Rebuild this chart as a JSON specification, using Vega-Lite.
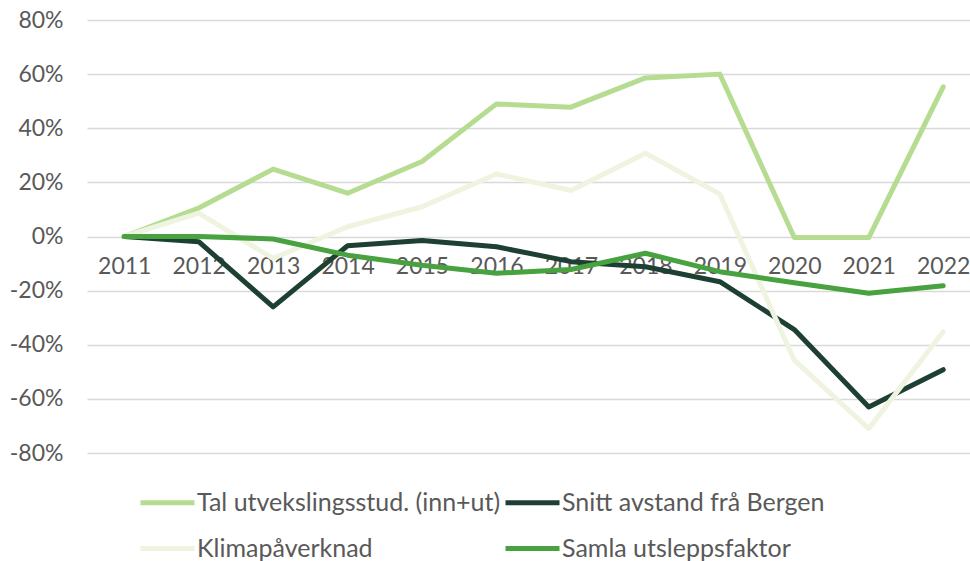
{
  "$schema": "https://vega.github.io/schema/vega-lite/v6.json",
  "width": 883,
  "height": 433,
  "autosize": {"type": "none"},
  "padding": {"left": 87, "top": 20, "right": 0, "bottom": 108},
  "background": "white",
  "config": {
    "view": {"stroke": null},
    "font": "Lato",
    "axis": {"labelFont": "Lato", "labelFontSize": 23, "labelColor": "#595959"},
    "legend": {"labelFont": "Lato", "labelFontSize": 25, "labelColor": "#595959"}
  },
  "data": {
    "values": [
      {"year": 2011, "series": "Tal utvekslingsstud. (inn+ut)", "value": 0},
      {"year": 2012, "series": "Tal utvekslingsstud. (inn+ut)", "value": 10.5},
      {"year": 2013, "series": "Tal utvekslingsstud. (inn+ut)", "value": 24.9},
      {"year": 2014, "series": "Tal utvekslingsstud. (inn+ut)", "value": 16},
      {"year": 2015, "series": "Tal utvekslingsstud. (inn+ut)", "value": 27.7},
      {"year": 2016, "series": "Tal utvekslingsstud. (inn+ut)", "value": 49},
      {"year": 2017, "series": "Tal utvekslingsstud. (inn+ut)", "value": 47.8},
      {"year": 2018, "series": "Tal utvekslingsstud. (inn+ut)", "value": 58.6},
      {"year": 2019, "series": "Tal utvekslingsstud. (inn+ut)", "value": 60},
      {"year": 2020, "series": "Tal utvekslingsstud. (inn+ut)", "value": -0.4},
      {"year": 2021, "series": "Tal utvekslingsstud. (inn+ut)", "value": -0.4},
      {"year": 2022, "series": "Tal utvekslingsstud. (inn+ut)", "value": 55.3},
      {"year": 2011, "series": "Snitt avstand frå Bergen", "value": 0},
      {"year": 2012, "series": "Snitt avstand frå Bergen", "value": -1.9},
      {"year": 2013, "series": "Snitt avstand frå Bergen", "value": -26},
      {"year": 2014, "series": "Snitt avstand frå Bergen", "value": -3.4},
      {"year": 2015, "series": "Snitt avstand frå Bergen", "value": -1.5},
      {"year": 2016, "series": "Snitt avstand frå Bergen", "value": -3.8},
      {"year": 2017, "series": "Snitt avstand frå Bergen", "value": -9.3},
      {"year": 2018, "series": "Snitt avstand frå Bergen", "value": -11.2},
      {"year": 2019, "series": "Snitt avstand frå Bergen", "value": -16.7},
      {"year": 2020, "series": "Snitt avstand frå Bergen", "value": -34.4},
      {"year": 2021, "series": "Snitt avstand frå Bergen", "value": -63},
      {"year": 2022, "series": "Snitt avstand frå Bergen", "value": -49.2},
      {"year": 2011, "series": "Klimapåverknad", "value": 0},
      {"year": 2012, "series": "Klimapåverknad", "value": 8.6},
      {"year": 2013, "series": "Klimapåverknad", "value": -8.1},
      {"year": 2014, "series": "Klimapåverknad", "value": 3.6},
      {"year": 2015, "series": "Klimapåverknad", "value": 11},
      {"year": 2016, "series": "Klimapåverknad", "value": 23.1},
      {"year": 2017, "series": "Klimapåverknad", "value": 17},
      {"year": 2018, "series": "Klimapåverknad", "value": 30.8},
      {"year": 2019, "series": "Klimapåverknad", "value": 15.7},
      {"year": 2020, "series": "Klimapåverknad", "value": -45.7},
      {"year": 2021, "series": "Klimapåverknad", "value": -71},
      {"year": 2022, "series": "Klimapåverknad", "value": -35.2},
      {"year": 2011, "series": "Samla utsleppsfaktor", "value": 0},
      {"year": 2012, "series": "Samla utsleppsfaktor", "value": 0},
      {"year": 2013, "series": "Samla utsleppsfaktor", "value": -0.9},
      {"year": 2014, "series": "Samla utsleppsfaktor", "value": -6.9},
      {"year": 2015, "series": "Samla utsleppsfaktor", "value": -10.6},
      {"year": 2016, "series": "Samla utsleppsfaktor", "value": -13.6},
      {"year": 2017, "series": "Samla utsleppsfaktor", "value": -12.2},
      {"year": 2018, "series": "Samla utsleppsfaktor", "value": -6.2},
      {"year": 2019, "series": "Samla utsleppsfaktor", "value": -13},
      {"year": 2020, "series": "Samla utsleppsfaktor", "value": -17.1},
      {"year": 2021, "series": "Samla utsleppsfaktor", "value": -21},
      {"year": 2022, "series": "Samla utsleppsfaktor", "value": -18.2}
    ]
  },
  "mark": {"type": "line", "strokeWidth": 5, "strokeCap": "round", "strokeJoin": "round"},
  "encoding": {
    "x": {
      "field": "year",
      "type": "quantitative",
      "scale": {"domain": [2010.5, 2022.36], "nice": false, "zero": false},
      "axis": {
        "title": null,
        "values": [2011, 2012, 2013, 2014, 2015, 2016, 2017, 2018, 2019, 2020, 2021, 2022],
        "format": "d",
        "grid": false,
        "domain": false,
        "ticks": false,
        "tickSize": 0,
        "labelPadding": 19,
        "offset": -216.5,
        "labelFlush": false,
        "labelOverlap": false
      }
    },
    "y": {
      "field": "value",
      "type": "quantitative",
      "scale": {"domain": [-80, 80], "nice": false},
      "axis": {
        "title": null,
        "values": [-80, -60, -40, -20, 0, 20, 40, 60, 80],
        "labelExpr": "datum.value + '%'",
        "domain": false,
        "ticks": false,
        "tickSize": 0,
        "labelPadding": 24,
        "gridColor": "#d9d9d9",
        "gridWidth": 1.5
      }
    },
    "color": {
      "field": "series",
      "type": "nominal",
      "scale": {
        "domain": ["Tal utvekslingsstud. (inn+ut)", "Snitt avstand frå Bergen", "Klimapåverknad", "Samla utsleppsfaktor"],
        "range": ["#b5dc90", "#1d4033", "#eef4e0", "#48a23f"]
      },
      "legend": {
        "title": null,
        "orient": "none",
        "legendX": 51,
        "legendY": 453,
        "columns": 2,
        "direction": "horizontal",
        "symbolType": "stroke",
        "symbolSize": 2916,
        "symbolStrokeWidth": 5,
        "labelOffset": 0,
        "columnPadding": -6,
        "rowPadding": 3,
        "labelLimit": 400
      }
    }
  }
}
